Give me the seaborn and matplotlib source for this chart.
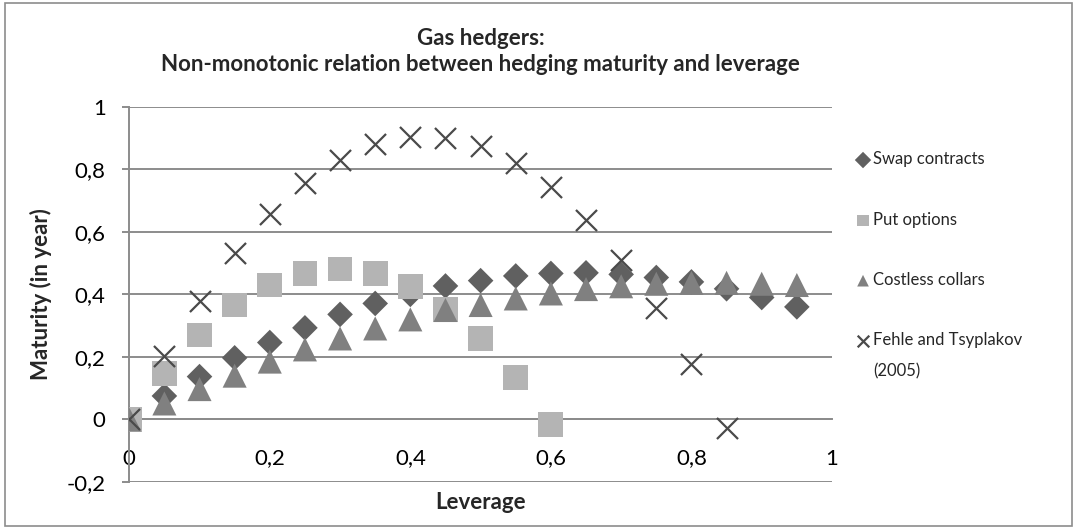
import matplotlib
matplotlib.use("Agg")
import matplotlib.pyplot as plt
from matplotlib.ticker import FuncFormatter, MultipleLocator
from matplotlib.patches import Rectangle
import numpy as np
import pandas as pd
import seaborn as sns

# leverage values (x axis)
leverage = [0, 0.05, 0.1, 0.15, 0.2, 0.25, 0.3, 0.35, 0.4, 0.45,
            0.5, 0.55, 0.6, 0.65, 0.7, 0.75, 0.8, 0.85, 0.9, 0.95]

swap = [0, 0.075, 0.137, 0.197, 0.246, 0.293, 0.336, 0.371, 0.40, 0.427,
        0.444, 0.459, 0.467, 0.469, 0.464, 0.454, 0.44, 0.418, 0.39, 0.36]
put_x = [0, 0.05, 0.1, 0.15, 0.2, 0.25, 0.3, 0.35, 0.4, 0.45, 0.5, 0.55, 0.6]
put = [0, 0.147, 0.270, 0.366, 0.430, 0.468, 0.481, 0.467, 0.425, 0.351,
       0.259, 0.134, -0.016]
collars = [0, 0.051, 0.097, 0.140, 0.185, 0.224, 0.259, 0.291, 0.320, 0.350,
           0.366, 0.387, 0.403, 0.417, 0.426, 0.434, 0.437, 0.437, 0.434, 0.43]
fehle_x = [0, 0.05, 0.1, 0.15, 0.2, 0.25, 0.3, 0.35, 0.4, 0.45,
           0.5, 0.55, 0.6, 0.65, 0.7, 0.75, 0.8, 0.85]
fehle = [0, 0.204, 0.379, 0.531, 0.656, 0.755, 0.830, 0.880, 0.903, 0.901,
         0.875, 0.821, 0.742, 0.638, 0.510, 0.355, 0.176, -0.029]

labels = ["Swap contracts", "Put options", "Costless collars",
          "Fehle and Tsyplakov"]
label_extra = "(2005)"

sns.set_theme(style="white")
plt.rcParams['font.family'] = ['Lato', 'DejaVu Sans']

fig = plt.figure(figsize=(10.77, 5.29), dpi=100)
ax = fig.add_axes([0.120, 0.089, 0.6525, 0.709])

sns.scatterplot(x=leverage, y=swap, marker='D', s=170, color='#606060',
                edgecolor='none', label=labels[0], ax=ax, zorder=3)
sns.scatterplot(x=put_x, y=put, marker='s', s=320, color='#b4b4b4',
                edgecolor='none', label=labels[1], ax=ax, zorder=3)
sns.scatterplot(x=leverage, y=collars, marker='^', s=300, color='#808080',
                edgecolor='none', label=labels[2], ax=ax, zorder=3)
sns.scatterplot(x=fehle_x, y=fehle, marker='x', s=230, color='#4a4a4a',
                linewidth=1.6, label=labels[3], ax=ax, zorder=4)

ax.set_xlim(0, 1)
ax.set_ylim(-0.2, 1)
ax.xaxis.set_major_locator(MultipleLocator(0.2))
ax.yaxis.set_major_locator(MultipleLocator(0.2))
fmt = FuncFormatter(lambda v, p: ('%g' % round(v, 2)).replace('.', ','))
ax.xaxis.set_major_formatter(fmt)
ax.yaxis.set_major_formatter(fmt)

ax.grid(axis='y', color='#8c8c8c', linewidth=1.4)
ax.grid(axis='x', visible=False)
ax.set_axisbelow(True)
for s in ['top', 'right']:
    ax.spines[s].set_visible(False)
ax.spines['left'].set_color('#8c8c8c')
ax.spines['left'].set_linewidth(1.4)
ax.spines['bottom'].set_position(('data', 0))
ax.spines['bottom'].set_color('#8c8c8c')
ax.spines['bottom'].set_linewidth(1.4)

ax.tick_params(axis='y', left=True, length=5, width=1.4, color='#8c8c8c',
               labelsize=16, pad=12, labelcolor='black')
ax.tick_params(axis='x', bottom=False, length=0, labelsize=16, pad=21,
               labelcolor='black')

ax.set_xlabel("Leverage", fontsize=16, fontweight='bold')
ax.xaxis.set_label_coords(0.5, -0.028)
ax.set_ylabel("Maturity (in year)", fontsize=16, fontweight='bold')
ax.yaxis.set_label_coords(-0.11, 0.5)
ax.set_title("Gas hedgers:\nNon-monotonic relation between hedging maturity and leverage",
             fontsize=16, fontweight='bold', pad=26, linespacing=1.3)

leg = ax.legend(loc='upper left', bbox_to_anchor=(1.024, 0.899), frameon=False,
                fontsize=12, labelspacing=2.66, handletextpad=0.15,
                handlelength=0.9, borderaxespad=0)
for h in leg.legend_handles:
    h.set_sizes([70])

# second line of the last legend entry, placed under its first line
fig.canvas.draw()
bb = leg.get_texts()[3].get_window_extent()
fig.text(bb.x0 / fig.bbox.width, (bb.y0 - 31 + bb.height / 2) / fig.bbox.height,
         label_extra, fontsize=12, va='center', ha='left')

fig.patches.append(Rectangle((0.005, 0.005), 0.99, 0.99, transform=fig.transFigure,
                             fill=False, edgecolor='#8c8c8c', linewidth=1.2))

fig.savefig("out.png", dpi=100)
